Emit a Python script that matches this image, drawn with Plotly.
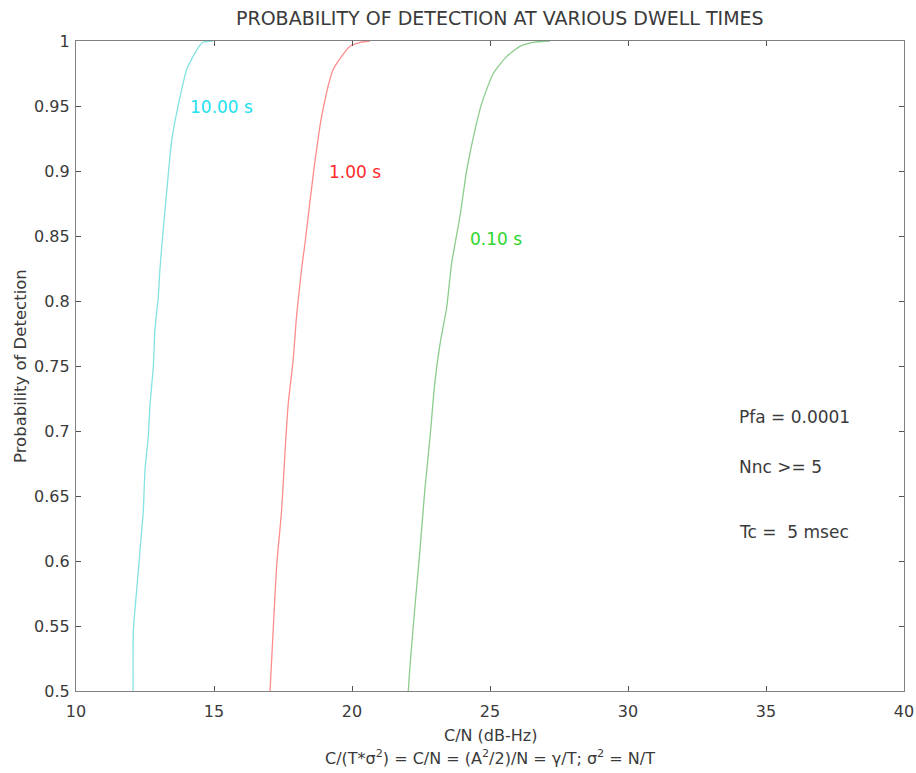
import plotly.graph_objects as go

# ---- data ----
cn_10s = [12.07, 12.08, 12.20, 12.32, 12.44, 12.50, 12.62, 12.68, 12.80, 12.86, 12.98, 13.04,
          13.10, 13.29, 13.47, 13.77, 14.01, 14.37, 14.60, 14.95]
pd_10s = [0.500, 0.547, 0.578, 0.608, 0.639, 0.670, 0.696, 0.720, 0.749, 0.778, 0.803, 0.824,
          0.840, 0.885, 0.924, 0.957, 0.978, 0.993, 0.999, 1.000]

cn_1s = [17.03, 17.15, 17.27, 17.45, 17.57, 17.69, 17.87, 17.99, 18.17, 18.30, 18.60, 18.90,
         19.32, 19.93, 20.30, 20.65]
pd_1s = [0.500, 0.549, 0.596, 0.639, 0.683, 0.721, 0.755, 0.788, 0.824, 0.845, 0.898, 0.942,
         0.978, 0.996, 0.999, 1.000]

cn_01s = [22.04, 22.10, 22.28, 22.46, 22.64, 22.83, 23.00, 23.19, 23.43, 23.61, 23.91, 24.16,
          24.46, 24.70, 25.12, 25.60, 26.10, 26.57, 27.17]
pd_01s = [0.500, 0.519, 0.565, 0.608, 0.655, 0.696, 0.737, 0.767, 0.795, 0.829, 0.865, 0.901,
          0.932, 0.952, 0.975, 0.988, 0.996, 0.999, 1.000]

curve_labels = ["10.00 s", "1.00 s", "0.10 s"]
label_x = [14.06, 19.09, 24.20]
label_y = [0.949, 0.899, 0.848]

notes = ["Pfa = 0.0001", "Nnc >= 5", "Tc =  5 msec"]
note_x = [33.95, 33.95, 33.95]
note_y = [0.711, 0.672, 0.622]

x_ticks = [10, 15, 20, 25, 30, 35, 40]
y_ticks = [0.5, 0.55, 0.6, 0.65, 0.7, 0.75, 0.8, 0.85, 0.9, 0.95, 1.0]
y_tick_text = ["0.5", "0.55", "0.6", "0.65", "0.7", "0.75", "0.8", "0.85", "0.9", "0.95", "1"]

FONT = "DejaVu Sans"
TXT = "#3a3a3a"

line_colors = ["#85e2e2", "#ff8c8c", "#8ccc8c"]
text_colors = ["#22e0ee", "#ff2a2a", "#2ed62e"]

fig = go.Figure()
for xs, ys, lc in zip([cn_10s, cn_1s, cn_01s], [pd_10s, pd_1s, pd_01s], line_colors):
    fig.add_trace(go.Scatter(x=xs, y=ys, mode="lines",
                             line=dict(color=lc, width=1.3, shape="spline", smoothing=0.6),
                             showlegend=False, hoverinfo="skip"))

for t, x, y, c in zip(curve_labels, label_x, label_y, text_colors):
    fig.add_annotation(x=x, y=y, text=t, showarrow=False, xanchor="left", yanchor="middle",
                       font=dict(family=FONT, size=17, color=c))

for t, x, y in zip(notes, note_x, note_y):
    fig.add_annotation(x=x, y=y, text=t, showarrow=False, xanchor="left", yanchor="middle",
                       font=dict(family=FONT, size=17, color=TXT))

# axis titles
fig.add_annotation(xref="paper", yref="paper", x=0.5, y=0, yanchor="middle", yshift=-44,
                   text="C/N (dB-Hz)", showarrow=False, font=dict(family=FONT, size=16, color=TXT))
fig.add_annotation(xref="paper", yref="paper", x=0.5, y=0, yanchor="middle", yshift=-66,
                   text="C/(T*σ<sup>2</sup>) = C/N = (A<sup>2</sup>/2)/N = γ/T; σ<sup>2</sup> = N/T",
                   showarrow=False, font=dict(family=FONT, size=16, color=TXT))
fig.add_annotation(xref="paper", yref="paper", x=0, y=0.5, xanchor="center", xshift=-56,
                   text="Probability of Detection", textangle=-90, showarrow=False,
                   font=dict(family=FONT, size=16.5, color=TXT))
fig.add_annotation(xref="paper", yref="paper", x=0.5, y=1, yanchor="middle", yshift=-23 + 46, xshift=10,
                   text="PROBABILITY OF DETECTION AT VARIOUS DWELL TIMES", showarrow=False,
                   font=dict(family=FONT, size=19, color=TXT))

axis_common = dict(showgrid=False, zeroline=False, showline=True, linecolor="#808080", linewidth=1.2,
                   mirror="allticks", ticks="inside", ticklen=5, tickcolor="#555555", tickwidth=1,
                   tickfont=dict(family=FONT, size=16, color=TXT), automargin=False)

fig.update_xaxes(range=[10, 40], tickvals=x_ticks, ticktext=[str(v) for v in x_ticks],
                 ticklabelstandoff=6, **axis_common)
fig.update_yaxes(range=[0.5, 1.0], tickvals=y_ticks, ticktext=y_tick_text,
                 ticklabelstandoff=2, **axis_common)

fig.update_layout(width=916, height=773, margin=dict(l=76, r=12, t=41, b=82),
                  plot_bgcolor="white", paper_bgcolor="white", showlegend=False)

fig.write_html("out.html")
